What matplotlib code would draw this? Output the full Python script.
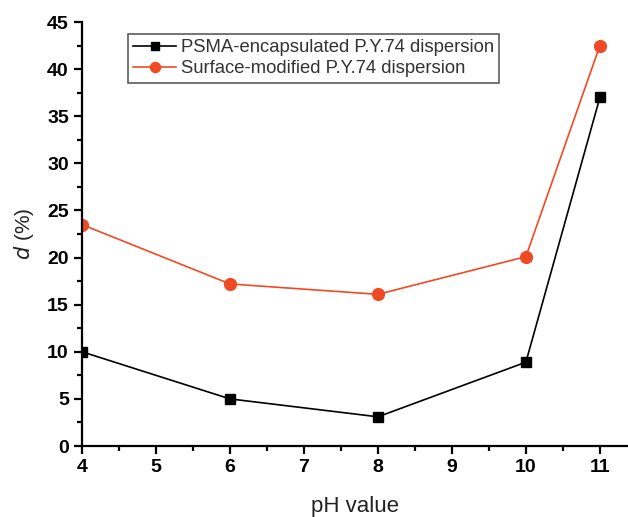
import matplotlib
matplotlib.use('Agg')
from matplotlib import pyplot as plt
from matplotlib.ticker import MultipleLocator

# pH values and d (%)
ph = [4, 6, 8, 10, 11]
psma = [10.0, 5.0, 3.1, 8.9, 37.0]
surface = [23.5, 17.2, 16.1, 20.1, 42.5]

plt.rcParams['font.family'] = ['Liberation Sans', 'DejaVu Sans']

fig = plt.figure(figsize=(6.28, 5.17), dpi=100)
ax = fig.add_axes([0.1306, 0.1373, 0.8694, 0.8201])

ax.plot(ph, psma, color='black', lw=1.2, marker='s', ms=7,
        label='PSMA-encapsulated P.Y.74 dispersion')
ax.plot(ph, surface, color='#f04a25', lw=1.2, marker='o', ms=8.5,
        label='Surface-modified P.Y.74 dispersion')

ax.set_xlim(4, 11.38)
ax.set_ylim(0, 45)
ax.xaxis.set_major_locator(MultipleLocator(1))
ax.xaxis.set_minor_locator(MultipleLocator(0.5))
ax.yaxis.set_major_locator(MultipleLocator(5))
ax.yaxis.set_minor_locator(MultipleLocator(2.5))

for s in ['top', 'right']:
    ax.spines[s].set_visible(False)
for s in ['left', 'bottom']:
    ax.spines[s].set_linewidth(1.6)

ax.tick_params(which='major', direction='out', length=6, width=1.6, labelsize=14)
ax.tick_params(which='minor', direction='out', length=3.5, width=1.6)
for lab in ax.get_xticklabels() + ax.get_yticklabels():
    lab.set_fontweight('bold')

ax.set_xlabel('pH value', fontsize=16, color='#222222', labelpad=14)
ax.set_ylabel(r'$d$ (%)', fontsize=15, color='#222222', labelpad=8)

leg = ax.legend(loc='upper left', bbox_to_anchor=(0.084, 0.972), fontsize=13.3,
                frameon=True, fancybox=False, edgecolor='#333333',
                borderpad=0.3, handlelength=2.3, handletextpad=0.25,
                labelspacing=0.2, borderaxespad=0, markerscale=0.85)
leg.get_frame().set_linewidth(1.2)
for t in leg.get_texts():
    t.set_color('#333333')

plt.savefig('out.png', dpi=100)
